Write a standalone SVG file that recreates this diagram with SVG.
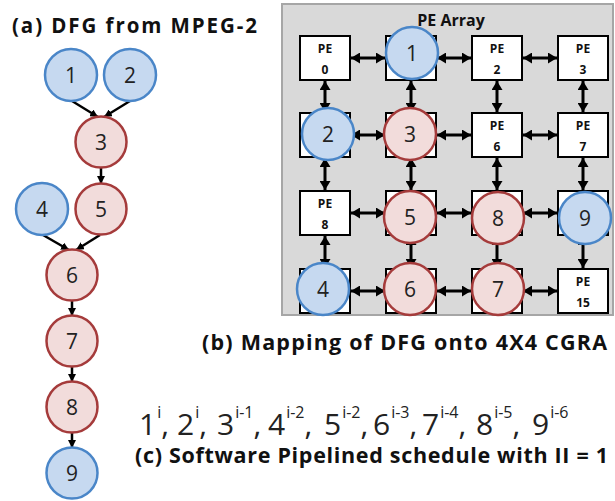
<svg xmlns="http://www.w3.org/2000/svg" width="615" height="501" viewBox="0 0 615 501">
  <defs>
    <style>
      .cap { font-family: "Open Sans", "Noto Sans", "DejaVu Sans", sans-serif; font-weight: bold; fill: #111; }
      .num { font-family: "Open Sans", "Noto Sans", "DejaVu Sans", sans-serif; font-size: 21px; fill: #222; text-anchor: middle; }
      .sched { font-family: "Open Sans", "Noto Sans", "DejaVu Sans", sans-serif; font-size: 30px; fill: #222; }
      .sup { font-size: 16px; }
      .pe-box { fill: #ffffff; stroke: #000; stroke-width: 2; }
      .pe-lbl { font-family: "Open Sans", "Noto Sans", "DejaVu Sans", sans-serif; font-weight: bold; font-size: 12px; fill: #111; text-anchor: middle; }
      .src { fill: #c6d9f0; stroke: #4a86c8; stroke-width: 2.5; }
      .op { fill: #f2dcdb; stroke: #a53b3b; stroke-width: 2.5; }
      .dfg-edge { stroke: #000; stroke-width: 2.5; fill: none; marker-end: url(#ah); }
      .link { stroke: #000; stroke-width: 3; fill: none; marker-start: url(#bh); marker-end: url(#bh); }
    </style>
    <marker id="ah" markerUnits="userSpaceOnUse" markerWidth="9" markerHeight="8" refX="8" refY="4" orient="auto">
      <path d="M0,0 L8,4 L0,8 z" fill="#000"/>
    </marker>
    <marker id="bh" markerUnits="userSpaceOnUse" markerWidth="10" markerHeight="11" refX="9" refY="5.5" orient="auto-start-reverse">
      <path d="M0,0 L9,5.5 L0,11 z" fill="#000"/>
    </marker>
  </defs>

  <rect width="615" height="501" fill="#ffffff"/>

  <!-- (a) data flow graph -->
  <text class="cap" x="12" y="33" font-size="20.5" textLength="245" lengthAdjust="spacing">(a) DFG from MPEG-2</text>

  <g id="dfg-edges">
    <line class="dfg-edge" x1="72" y1="101" x2="98" y2="117"/>
    <line class="dfg-edge" x1="130" y1="101" x2="104" y2="117"/>
    <line class="dfg-edge" x1="101" y1="167" x2="101" y2="184"/>
    <line class="dfg-edge" x1="43" y1="235" x2="69" y2="250"/>
    <line class="dfg-edge" x1="100" y1="235" x2="76" y2="250"/>
    <line class="dfg-edge" x1="72" y1="300" x2="72" y2="316"/>
    <line class="dfg-edge" x1="72" y1="366" x2="72" y2="382"/>
    <line class="dfg-edge" x1="72" y1="432" x2="72" y2="448"/>
  </g>

  <g id="dfg-n1"><circle class="src" cx="71" cy="75" r="26"/><text class="num" x="71" y="83">1</text></g>
  <g id="dfg-n2"><circle class="src" cx="130" cy="75" r="26"/><text class="num" x="130" y="83">2</text></g>
  <g id="dfg-n3"><circle class="op" cx="101" cy="142" r="25.5"/><text class="num" x="101" y="150">3</text></g>
  <g id="dfg-n4"><circle class="src" cx="42" cy="209" r="26"/><text class="num" x="42" y="217">4</text></g>
  <g id="dfg-n5"><circle class="op" cx="101" cy="209" r="25.5"/><text class="num" x="101" y="217">5</text></g>
  <g id="dfg-n6"><circle class="op" cx="72" cy="275" r="25.5"/><text class="num" x="72" y="283">6</text></g>
  <g id="dfg-n7"><circle class="op" cx="72" cy="341" r="25.5"/><text class="num" x="72" y="349">7</text></g>
  <g id="dfg-n8"><circle class="op" cx="72" cy="407" r="25.5"/><text class="num" x="72" y="415">8</text></g>
  <g id="dfg-n9"><circle class="src" cx="72" cy="473" r="25.5"/><text class="num" x="72" y="481">9</text></g>

  <!-- (b) 4x4 CGRA -->
  <rect x="282" y="4" width="331" height="311" fill="#d9d9d9" stroke="#a6a6a6" stroke-width="2"/>
  <text class="cap" x="451" y="26" font-size="16" text-anchor="middle">PE Array</text>

  <g id="mesh-links">
    <!-- row links -->
    <line class="link" x1="351" y1="58" x2="385" y2="58"/>
    <line class="link" x1="437" y1="58" x2="471" y2="58"/>
    <line class="link" x1="523" y1="58" x2="557" y2="58"/>
    <line class="link" x1="351" y1="135" x2="385" y2="135"/>
    <line class="link" x1="437" y1="135" x2="471" y2="135"/>
    <line class="link" x1="523" y1="135" x2="557" y2="135"/>
    <line class="link" x1="351" y1="213" x2="385" y2="213"/>
    <line class="link" x1="437" y1="213" x2="471" y2="213"/>
    <line class="link" x1="523" y1="213" x2="557" y2="213"/>
    <line class="link" x1="351" y1="291" x2="385" y2="291"/>
    <line class="link" x1="437" y1="291" x2="471" y2="291"/>
    <line class="link" x1="523" y1="291" x2="557" y2="291"/>
    <!-- column links -->
    <line class="link" x1="325" y1="81" x2="325" y2="112"/>
    <line class="link" x1="411" y1="81" x2="411" y2="112"/>
    <line class="link" x1="497" y1="81" x2="497" y2="112"/>
    <line class="link" x1="583" y1="81" x2="583" y2="112"/>
    <line class="link" x1="325" y1="158" x2="325" y2="190"/>
    <line class="link" x1="411" y1="158" x2="411" y2="190"/>
    <line class="link" x1="497" y1="158" x2="497" y2="190"/>
    <line class="link" x1="583" y1="158" x2="583" y2="190"/>
    <line class="link" x1="325" y1="236" x2="325" y2="268"/>
    <line class="link" x1="411" y1="236" x2="411" y2="268"/>
    <line class="link" x1="497" y1="236" x2="497" y2="268"/>
    <line class="link" x1="583" y1="236" x2="583" y2="268"/>
  </g>

  <g id="pe0"><rect class="pe-box" x="300" y="36" width="50" height="44"/><text class="pe-lbl" x="325" y="53">PE</text><text class="pe-lbl" x="325" y="74">0</text></g>
  <g id="pe1"><rect class="pe-box" x="386" y="36" width="50" height="44"/></g>
  <g id="pe2"><rect class="pe-box" x="472" y="36" width="50" height="44"/><text class="pe-lbl" x="497" y="53">PE</text><text class="pe-lbl" x="497" y="74">2</text></g>
  <g id="pe3"><rect class="pe-box" x="558" y="36" width="50" height="44"/><text class="pe-lbl" x="583" y="53">PE</text><text class="pe-lbl" x="583" y="74">3</text></g>
  <g id="pe4"><rect class="pe-box" x="300" y="113" width="50" height="44"/></g>
  <g id="pe5"><rect class="pe-box" x="386" y="113" width="50" height="44"/></g>
  <g id="pe6"><rect class="pe-box" x="472" y="113" width="50" height="44"/><text class="pe-lbl" x="497" y="130">PE</text><text class="pe-lbl" x="497" y="151">6</text></g>
  <g id="pe7"><rect class="pe-box" x="558" y="113" width="50" height="44"/><text class="pe-lbl" x="583" y="130">PE</text><text class="pe-lbl" x="583" y="151">7</text></g>
  <g id="pe8"><rect class="pe-box" x="300" y="191" width="50" height="44"/><text class="pe-lbl" x="325" y="208">PE</text><text class="pe-lbl" x="325" y="229">8</text></g>
  <g id="pe9"><rect class="pe-box" x="386" y="191" width="50" height="44"/></g>
  <g id="pe10"><rect class="pe-box" x="472" y="191" width="50" height="44"/></g>
  <g id="pe11"><rect class="pe-box" x="558" y="191" width="50" height="44"/></g>
  <g id="pe12"><rect class="pe-box" x="300" y="269" width="50" height="44"/></g>
  <g id="pe13"><rect class="pe-box" x="386" y="269" width="50" height="44"/></g>
  <g id="pe14"><rect class="pe-box" x="472" y="269" width="50" height="44"/></g>
  <g id="pe15"><rect class="pe-box" x="558" y="269" width="50" height="44"/><text class="pe-lbl" x="583" y="286">PE</text><text class="pe-lbl" x="583" y="307">15</text></g>

  <!-- operations placed on PEs -->
  <g id="map-n1"><circle class="src" cx="412" cy="53" r="26"/><text class="num" x="412" y="61">1</text></g>
  <g id="map-n2"><circle class="src" cx="328" cy="134" r="26"/><text class="num" x="328" y="142">2</text></g>
  <g id="map-n3"><circle class="op" cx="410" cy="134" r="26"/><text class="num" x="410" y="142">3</text></g>
  <g id="map-n5"><circle class="op" cx="410" cy="217" r="26"/><text class="num" x="410" y="225">5</text></g>
  <g id="map-n8"><circle class="op" cx="498" cy="218" r="26"/><text class="num" x="498" y="226">8</text></g>
  <g id="map-n9"><circle class="src" cx="585" cy="218" r="26"/><text class="num" x="585" y="226">9</text></g>
  <g id="map-n4"><circle class="src" cx="323" cy="289" r="26"/><text class="num" x="323" y="297">4</text></g>
  <g id="map-n6"><circle class="op" cx="410" cy="289" r="26"/><text class="num" x="410" y="297">6</text></g>
  <g id="map-n7"><circle class="op" cx="498" cy="289" r="26"/><text class="num" x="498" y="297">7</text></g>

  <text class="cap" x="202" y="350" font-size="21.5" textLength="405" lengthAdjust="spacing">(b) Mapping of DFG onto 4X4 CGRA</text>

  <!-- (c) schedule: each term is placed on its own column -->
  <text class="sched" y="435"><tspan x="139">1</tspan><tspan class="sup" dx="1" dy="-17">i</tspan><tspan dy="17">,</tspan><tspan x="177">2</tspan><tspan class="sup" dx="1" dy="-17">i</tspan><tspan dy="17">,</tspan><tspan x="217">3</tspan><tspan class="sup" dx="1" dy="-17">i-1</tspan><tspan dy="17">,</tspan><tspan x="268">4</tspan><tspan class="sup" dx="1" dy="-17">i-2</tspan><tspan dy="17">,</tspan><tspan x="324">5</tspan><tspan class="sup" dx="1" dy="-17">i-2</tspan><tspan dy="17">,</tspan><tspan x="373">6</tspan><tspan class="sup" dx="1" dy="-17">i-3</tspan><tspan dy="17">,</tspan><tspan x="422">7</tspan><tspan class="sup" dx="1" dy="-17">i-4</tspan><tspan dy="17">,</tspan><tspan x="476">8</tspan><tspan class="sup" dx="1" dy="-17">i-5</tspan><tspan dy="17">,</tspan><tspan x="532">9</tspan><tspan class="sup" dx="1" dy="-17">i-6</tspan></text>
  <text class="cap" x="135" y="463" font-size="21.5" textLength="473" lengthAdjust="spacing">(c) Software Pipelined schedule with II = 1</text>
</svg>
